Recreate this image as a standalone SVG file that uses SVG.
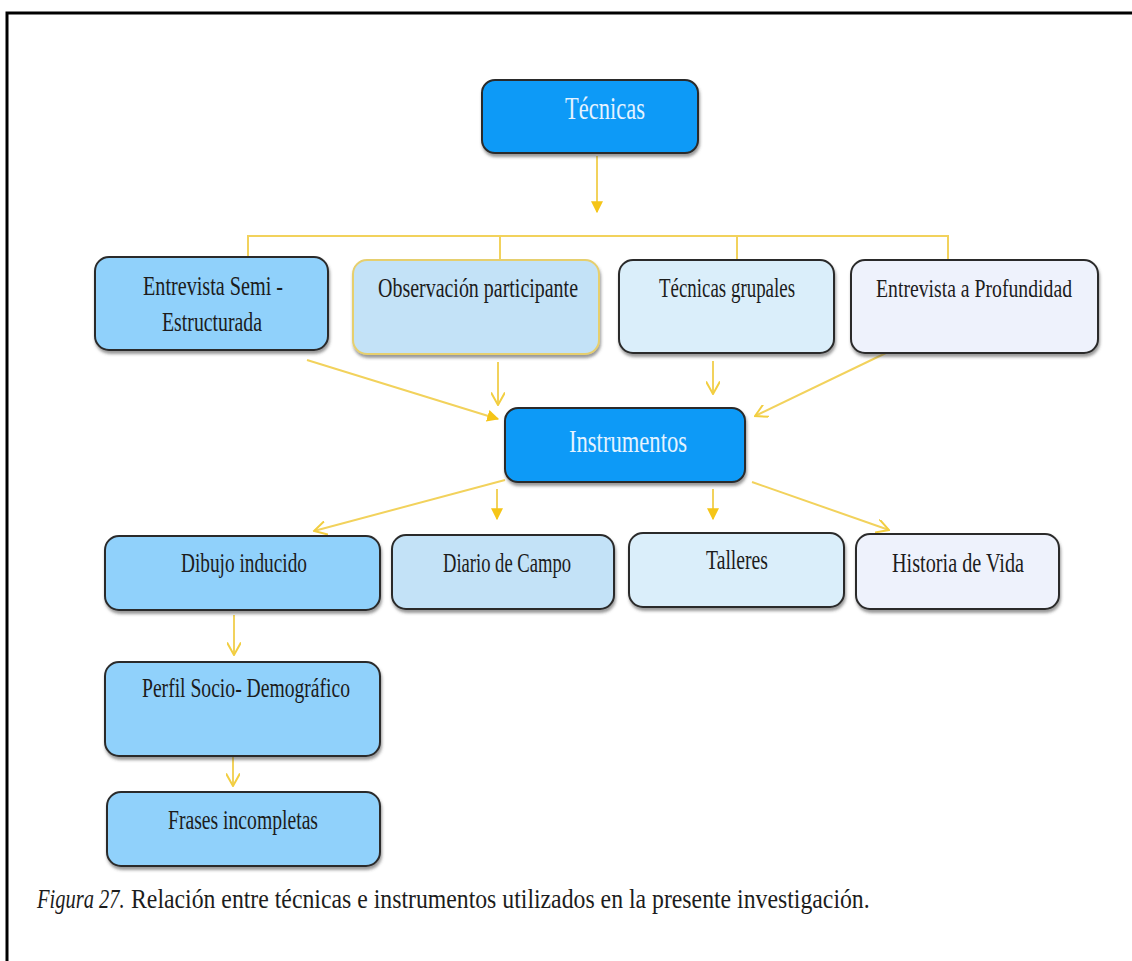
<svg xmlns="http://www.w3.org/2000/svg" width="1132" height="961" viewBox="0 0 1132 961">
<defs>
<filter id="sh" x="-5%" y="-10%" width="110%" height="125%">
<feDropShadow dx="1" dy="3" stdDeviation="1.5" flood-color="#444" flood-opacity="0.55"/>
</filter>
<marker id="af" viewBox="0 0 10 10" refX="9" refY="5" markerWidth="12" markerHeight="12" markerUnits="userSpaceOnUse" orient="auto">
<path d="M0,0 L10,5 L0,10 z" fill="#F5C518"/>
</marker>
<marker id="ao" viewBox="0 0 10 10" refX="9" refY="5" markerWidth="14" markerHeight="14" markerUnits="userSpaceOnUse" orient="auto">
<path d="M0,0 L9,5 L0,10" fill="none" stroke="#F2CE40" stroke-width="1.4"/>
</marker>
</defs>
<style>
.box{stroke:#2b2b2b;stroke-width:2;filter:url(#sh)}
.main{fill:#0A9AF7}
.c1{fill:#90D1FB}
.c2{fill:#C3E2F7}
.c3{fill:#DAEEFA}
.c4{fill:#EEF2FC}
.lbl{font-family:"Liberation Serif","Times New Roman",serif;font-size:27px;fill:#1c1c1c}
.wlbl{font-family:"Liberation Serif","Times New Roman",serif;font-size:32px;fill:#E4F3FF}
.ln{fill:none;stroke:#F2D25C;stroke-width:2}
.cap{font-family:"Liberation Serif","Times New Roman",serif;font-size:27px;fill:#1c1c1c}
</style>
<rect width="1132" height="961" fill="#fff"/>
<path d="M7,961 V13 H1132" fill="none" stroke="#000" stroke-width="3"/>

<g id="connectors">
<line class="ln" x1="597" y1="156" x2="597" y2="212" marker-end="url(#af)"/>
<path class="ln" d="M248,258 V236 H948 V260"/>
<line class="ln" x1="500" y1="236" x2="500" y2="262"/>
<line class="ln" x1="737" y1="236" x2="737" y2="260"/>
<line class="ln" x1="307" y1="360" x2="498" y2="419" marker-end="url(#af)"/>
<line class="ln" x1="498" y1="362" x2="498" y2="405" marker-end="url(#ao)"/>
<line class="ln" x1="713" y1="361" x2="713" y2="394" marker-end="url(#ao)"/>
<line class="ln" x1="888" y1="352" x2="755" y2="416" marker-end="url(#ao)"/>
<line class="ln" x1="505" y1="480" x2="314" y2="531" marker-end="url(#ao)"/>
<line class="ln" x1="497" y1="489" x2="497" y2="519" marker-end="url(#af)"/>
<line class="ln" x1="713" y1="489" x2="713" y2="519" marker-end="url(#af)"/>
<line class="ln" x1="752" y1="482" x2="889" y2="530" marker-end="url(#ao)"/>
<line class="ln" x1="234" y1="615" x2="234" y2="655" marker-end="url(#ao)"/>
<line class="ln" x1="233" y1="757" x2="233" y2="786" marker-end="url(#ao)"/>
</g>

<g id="tecnicas">
<rect class="box main" x="482" y="80" width="216" height="73" rx="13"/>
<text class="wlbl" x="565" y="119" textLength="80" lengthAdjust="spacingAndGlyphs">Técnicas</text>
</g>

<g id="entrevista-semi">
<rect class="box c1" x="95" y="257" width="233" height="93" rx="14"/>
<text class="lbl" x="143" y="295" textLength="140" lengthAdjust="spacingAndGlyphs">Entrevista Semi -</text>
<text class="lbl" x="162" y="331" textLength="100" lengthAdjust="spacingAndGlyphs">Estructurada</text>
</g>

<g id="observacion">
<rect class="box c2" x="353" y="260" width="246" height="94" rx="14" style="stroke:#E6CF6E"/>
<text class="lbl" x="378" y="297" textLength="200" lengthAdjust="spacingAndGlyphs">Observación participante</text>
</g>

<g id="tecnicas-grupales">
<rect class="box c3" x="619" y="260" width="215" height="93" rx="14"/>
<text class="lbl" x="659" y="297" textLength="136" lengthAdjust="spacingAndGlyphs">Técnicas grupales</text>
</g>

<g id="entrevista-profundidad">
<rect class="box c4" x="851" y="260" width="247" height="93" rx="14"/>
<text class="lbl" x="876" y="297" textLength="196" lengthAdjust="spacingAndGlyphs" style="font-size:25px">Entrevista a Profundidad</text>
</g>

<g id="instrumentos">
<rect class="box main" x="505" y="408" width="240" height="74" rx="13"/>
<text class="wlbl" x="569" y="452" textLength="118" lengthAdjust="spacingAndGlyphs">Instrumentos</text>
</g>

<g id="dibujo">
<rect class="box c1" x="105" y="536" width="275" height="74" rx="14"/>
<text class="lbl" x="181" y="572" textLength="126" lengthAdjust="spacingAndGlyphs">Dibujo inducido</text>
</g>

<g id="diario">
<rect class="box c2" x="392" y="535" width="222" height="74" rx="14"/>
<text class="lbl" x="443" y="572" textLength="128" lengthAdjust="spacingAndGlyphs">Diario de Campo</text>
</g>

<g id="talleres">
<rect class="box c3" x="629" y="533" width="215" height="74" rx="14"/>
<text class="lbl" x="706" y="569" textLength="62" lengthAdjust="spacingAndGlyphs">Talleres</text>
</g>

<g id="historia">
<rect class="box c4" x="856" y="534" width="203" height="75" rx="14"/>
<text class="lbl" x="892" y="572" textLength="132" lengthAdjust="spacingAndGlyphs">Historia de Vida</text>
</g>

<g id="perfil">
<rect class="box c1" x="105" y="662" width="275" height="94" rx="14"/>
<text class="lbl" x="142" y="697" textLength="208" lengthAdjust="spacingAndGlyphs">Perfil Socio- Demográfico</text>
</g>

<g id="frases">
<rect class="box c1" x="107" y="792" width="273" height="74" rx="14"/>
<text class="lbl" x="168" y="829" textLength="150" lengthAdjust="spacingAndGlyphs">Frases incompletas</text>
</g>

<g id="caption">
<text class="cap" transform="translate(37,908) scale(0.76,1)" font-style="italic">Figura 27.</text>
<text class="cap" transform="translate(131,908) scale(0.88,1)">Relación entre técnicas e instrumentos utilizados en la presente investigación.</text>
</g>
</svg>
